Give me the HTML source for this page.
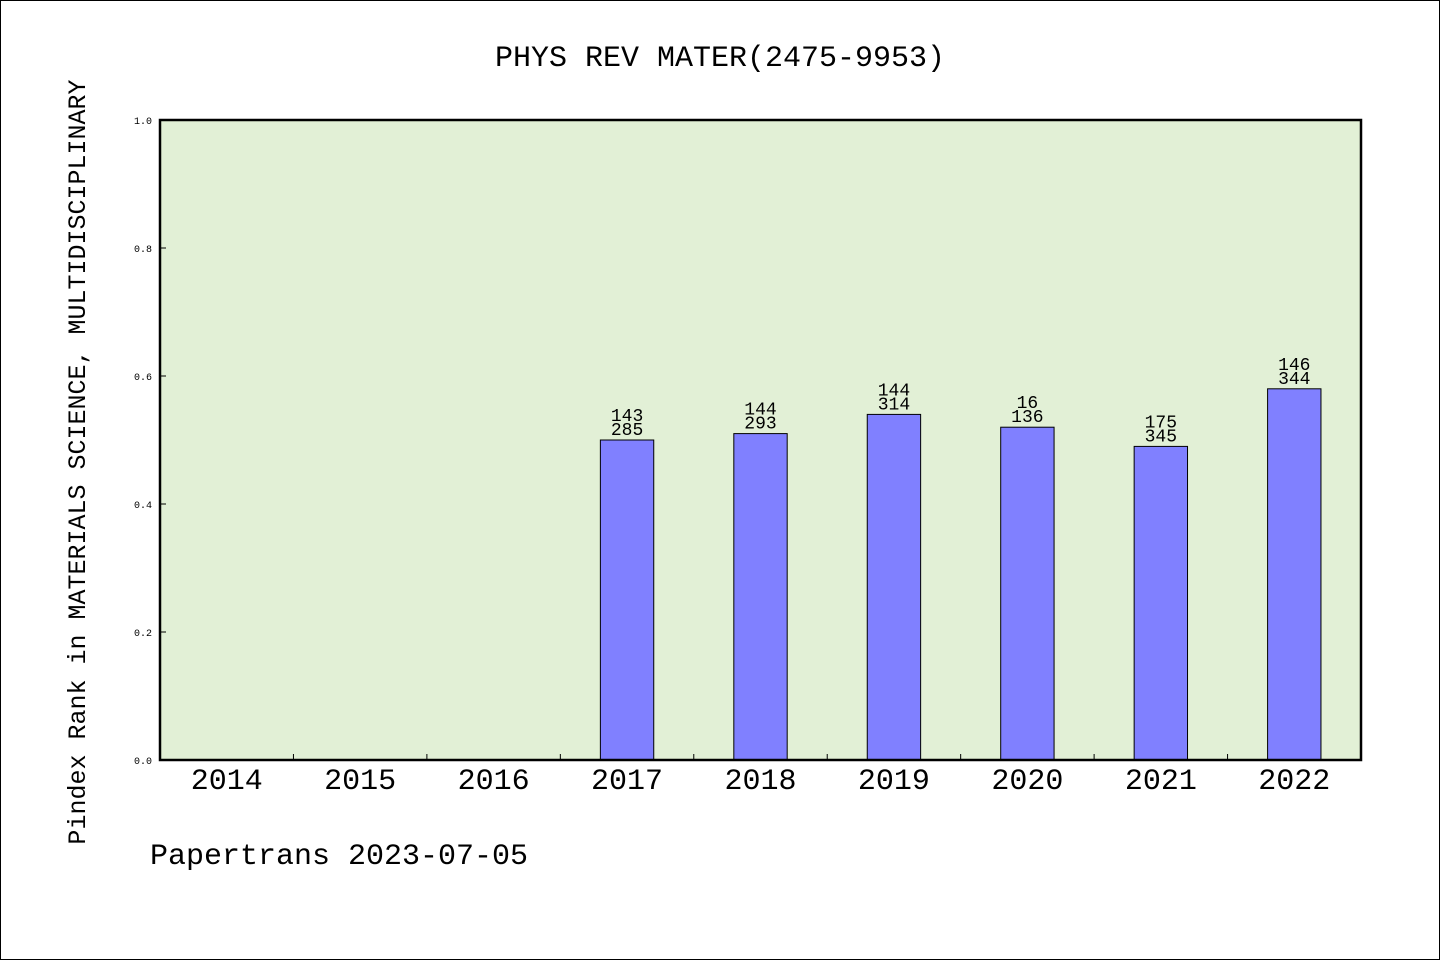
<!DOCTYPE html>
<html><head><meta charset="utf-8"><style>
html,body{margin:0;padding:0;background:#fff}
svg{display:block}
text{font-family:"Liberation Mono","WenQuanYi Zen Hei",monospace;fill:#000}
</style></head><body>
<svg width="1440" height="960" viewBox="0 0 1440 960">
<rect x="0.5" y="0.5" width="1439" height="959" fill="#fff" stroke="#000"/>
<text x="720" y="66" text-anchor="middle" font-size="30">PHYS REV MATER(2475-9953)</text>
<rect x="160" y="120" width="1201" height="640" fill="#e2f0d6"/>
<g id="marks"></g>
<rect x="160" y="120" width="1201" height="640" fill="none" stroke="#000" stroke-width="2.5"/>
<text transform="translate(85,462) rotate(-90)" text-anchor="middle" font-size="25">Pindex Rank in MATERIALS SCIENCE, MULTIDISCIPLINARY</text>
<text x="150" y="864" font-size="30">Papertrans 2023-07-05</text>
</svg>
<script>
const categories=["2014","2015","2016","2017","2018","2019","2020","2021","2022"];
const values=[null,null,null,0.50,0.51,0.54,0.52,0.49,0.58];
const topLabels=["","","","143","144","144","16","175","146"];
const bottomLabels=["","","","285","293","314","136","345","344"];
const yTicks=[0,0.2,0.4,0.6,0.8,1.0];
const yTickLabels=["0.0","0.2","0.4","0.6","0.8","1.0"];
const X0=160,X1=1361,Y0=760,Y1=120;
const band=(X1-X0)/categories.length;
const xc=i=>X0+band*(i+0.5);
const y=v=>Y0-(Y0-Y1)*v;
const ns="http://www.w3.org/2000/svg";
const g=document.getElementById('marks');
function mk(t,a){const e=document.createElementNS(ns,t);for(const k in a)e.setAttribute(k,a[k]);g.appendChild(e);return e;}
yTicks.forEach((v,i)=>{
 const l=mk('line',{x1:X0,x2:X0+6,y1:y(v),y2:y(v),stroke:'#000'});
 
 
 const t=mk('text',{x:X0-8,y:y(v)+4,'text-anchor':'end','font-size':10});
 t.textContent=yTickLabels[i];
 
 
});
categories.forEach((c,i)=>{
 if(i>0){const l=mk('line',{x1:X0+band*i,x2:X0+band*i,y1:Y0,y2:Y0-6,stroke:'#000'});
 
 }
 const t=mk('text',{x:xc(i),y:789,'text-anchor':'middle','font-size':30});
 t.textContent=c;
 
 
 const v=values[i];
 if(v!=null){
  const w=band*0.4;
  const r=mk('rect',{x:xc(i)-w/2,y:y(v),width:w,height:Y0-y(v),fill:'#8080ff',stroke:'#000','stroke-width':1});
  
  
  const a=mk('text',{x:xc(i),y:y(v)-19,'text-anchor':'middle','font-size':18});
  a.textContent=topLabels[i];
  
  
  const b=mk('text',{x:xc(i),y:y(v)-5,'text-anchor':'middle','font-size':18});
  b.textContent=bottomLabels[i];
  
  
 }
});
</script>
</body></html>
